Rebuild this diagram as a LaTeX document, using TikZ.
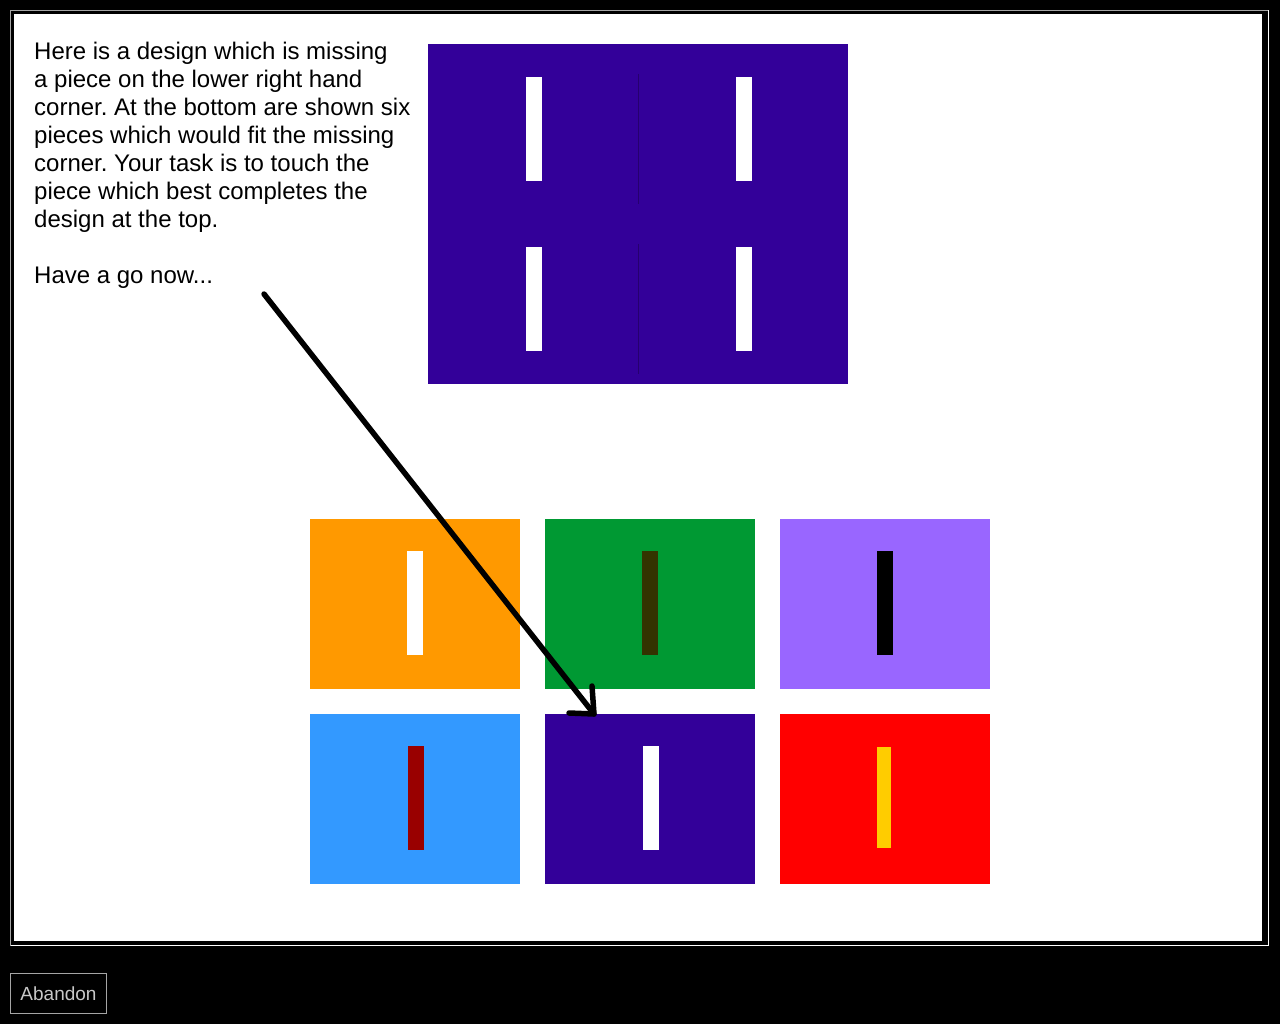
\documentclass[tikz,border=0pt]{standalone}
\usepackage{fontspec}
\setmainfont{Liberation Sans}
\usetikzlibrary{positioning}
\definecolor{indigocolor}{RGB}{51,0,153}
\definecolor{seamcolor}{RGB}{38,0,110}
\definecolor{orangecolor}{RGB}{255,153,0}
\definecolor{greencolor}{RGB}{0,153,51}
\definecolor{violetcolor}{RGB}{153,102,255}
\definecolor{bluecolor}{RGB}{51,153,255}
\definecolor{olivecolor}{RGB}{51,51,0}
\definecolor{maroocolor}{RGB}{153,0,0}
\definecolor{goldcolor}{RGB}{255,204,0}
\definecolor{framecolor}{RGB}{165,165,165}
\definecolor{btncolor}{RGB}{200,200,200}
\frenchspacing

\begin{document}
\begin{tikzpicture}[%
    x=1pt, y=-1pt,               % pixel grid, y going down
    node distance=25pt and 25pt, % gap between the answer pieces
    ]
\tikzset{
  tile/.style={rectangle, inner sep=0pt, outer sep=0pt, minimum width=210pt, minimum height=170pt},
  bar/.style={rectangle, inner sep=0pt, outer sep=0pt, minimum width=16pt, minimum height=104pt},
  pen/.style={line width=5.5pt, line cap=round, line join=round},
}

\useasboundingbox (0,0) rectangle (1280,1024);
\fill[black] (0,0) rectangle (1280,1024);

%frame
\fill[white] (14,14) rectangle (1262,941);
\draw[framecolor, line width=1.5pt] (10.5,946) -- (10.5,10.5) -- (1269,10.5);
\draw[white, line width=1.5pt] (10.5,945.5) -- (1268.5,945.5) -- (1268.5,10.5);

\node [anchor=north west, align=left, inner sep=0pt,
       font=\fontsize{24pt}{28pt}\selectfont] (intro) at (34,42)
  {Here is a design which is missing\\
   a piece on the lower right hand\\
   corner. At the bottom are shown six\\
   pieces which would fit the missing\\
   corner. Your task is to touch the\\
   piece which best completes the\\
   design at the top.\\[28pt]
   Have a go now...};

%design at the top
\node [tile, fill=indigocolor, anchor=north west] (d1) at (428,44) {};
\node [tile, fill=indigocolor, right=0pt of d1] (d2) {};
\node [tile, fill=indigocolor, below=0pt of d1] (d3) {};
\node [tile, fill=indigocolor, right=0pt of d3] (d4) {};
\foreach \t in {d1,d2,d3,d4}
  \node [bar, fill=white] at ([xshift=1pt]\t) {};
\draw [seamcolor, line width=0.8pt] ([yshift=-30pt]d1.north east) -- ([yshift=10pt]d1.south east);
\draw [seamcolor, line width=0.8pt] ([yshift=-30pt]d4.north west) -- ([yshift=10pt]d4.south west);

%pieces
\node [tile, fill=orangecolor, anchor=north west] (c1) at (310,519) {};
\node [tile, fill=greencolor, right=of c1] (c2) {};
\node [tile, fill=violetcolor, right=of c2] (c3) {};
\node [tile, fill=bluecolor, below=of c1] (c4) {};
\node [tile, fill=indigocolor, right=of c4] (c5) {};
\node [tile, fill=red, right=of c5] (c6) {};

\node [bar, fill=white] at ([xshift=-0.5pt,yshift=1pt]c1) {};
\node [bar, fill=olivecolor] at ([xshift=0pt,yshift=1pt]c2) {};
\node [bar, fill=black] at ([xshift=-0.5pt,yshift=1pt]c3) {};
\node [bar, fill=maroocolor] at ([xshift=1pt,yshift=1pt]c4) {};
\node [bar, fill=white] at ([xshift=1pt,yshift=1pt]c5) {};
\node [bar, fill=goldcolor, minimum width=14pt, minimum height=101pt] at ([xshift=-1pt,yshift=1.5pt]c6) {};

%arrow
\coordinate (tail) at (264,294);
\coordinate (tip) at ([xshift=49pt]c5.north west);
\draw [pen] (tail) -- (tip);
\draw [pen] ([xshift=-2pt,yshift=28pt]tip) -- (tip) -- ([xshift=-25pt,yshift=1pt]tip);

%button
\node [draw=framecolor, line width=1pt, text=btncolor, inner sep=0pt,
       minimum width=96pt, minimum height=40pt, anchor=north west,
       font=\fontsize{19pt}{22pt}\selectfont] (abandon) at (10,973) {Abandon};

\end{tikzpicture}
\end{document}
